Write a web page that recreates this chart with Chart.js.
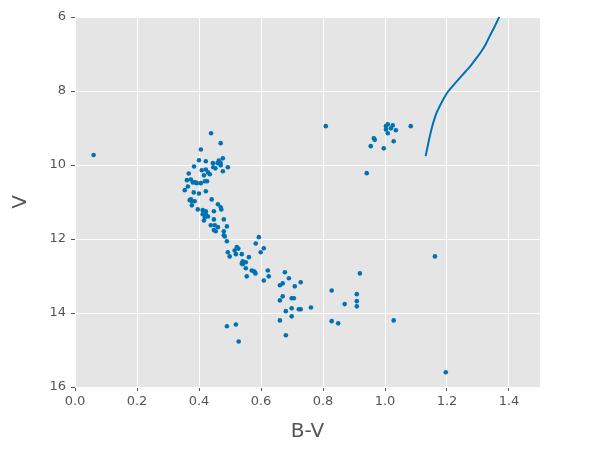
<!DOCTYPE html>
<html>
<head>
<meta charset="utf-8">
<script src="https://cdn.jsdelivr.net/npm/chart.js@4/dist/chart.umd.min.js"></script>
<style>
  html, body { margin: 0; padding: 0; background: #ffffff; }
  #wrap { width: 600px; height: 451px; }
</style>
</head>
<body>
<div id="wrap"><canvas id="c" width="600" height="451"></canvas></div>
<script>
// Star B-V colour index
const bv = [
  0.439,0.470,0.406,0.477,0.400,0.422,0.445,0.464,0.460,0.470,0.470,0.384,0.446,0.453,0.493,0.409,0.422,0.429,0.435,0.477,
  0.367,0.416,0.374,0.361,0.380,0.388,0.393,0.406,0.419,0.426,0.364,0.354,0.383,0.400,0.422,0.441,0.374,0.370,0.377,0.386,
  0.461,0.377,0.470,0.472,0.396,0.412,0.422,0.448,0.412,0.422,0.429,0.419,0.416,0.448,0.480,0.438,0.451,0.461,0.490,0.448,
  0.454,0.480,0.480,0.483,0.490,0.593,0.583,0.609,0.522,0.527,
  0.515,0.493,0.519,0.538,0.499,0.561,0.599,0.541,0.551,0.538,0.541,0.551,0.570,0.577,0.580,0.582,0.622,0.554,0.625,0.609,
  0.677,0.690,0.728,0.709,0.670,0.661,0.661,0.670,0.699,0.706,0.761,0.722,0.728,0.699,0.680,0.699,0.661,0.680,0.490,0.519,
  0.528,0.828,0.828,0.849,
  1.161,0.919,0.909,0.909,0.909,0.870,1.028,1.196,
  0.809,1.083,1.009,1.003,1.025,1.019,1.003,1.035,1.009,0.964,0.967,1.028,0.954,0.996,0.941,
  0.060
];
// Star V magnitude
const vmag = [
  9.14,9.41,9.58,9.82,9.87,9.90,9.95,9.88,9.95,9.95,10.01,10.04,10.06,10.09,10.06,10.14,10.12,10.20,10.25,10.17,
  10.23,10.28,10.39,10.41,10.47,10.47,10.49,10.49,10.44,10.44,10.58,10.68,10.74,10.77,10.71,10.93,10.93,10.95,10.98,10.98,
  11.06,11.09,11.14,11.20,11.20,11.22,11.25,11.25,11.33,11.33,11.39,11.41,11.50,11.47,11.47,11.63,11.63,11.68,11.66,11.76,
  11.79,11.79,11.90,11.93,12.06,11.95,12.12,12.25,12.22,12.26,
  12.31,12.36,12.41,12.41,12.47,12.49,12.36,12.60,12.63,12.66,12.68,12.79,12.85,12.87,12.90,12.93,12.85,13.01,13.01,13.12,
  12.90,13.06,13.17,13.28,13.20,13.25,13.66,13.55,13.60,13.60,13.85,13.90,13.90,13.87,13.95,14.09,14.20,14.60,14.36,14.31,
  14.77,13.39,14.22,14.28,
  12.47,12.93,13.49,13.68,13.82,13.76,14.20,15.60,
  8.95,8.95,8.90,8.95,8.93,9.01,9.04,9.06,9.14,9.28,9.32,9.36,9.49,9.55,10.22,
  9.73
];
// Isochrone curve
const isoBV = [1.131, 1.137, 1.143, 1.151, 1.160, 1.168, 1.176, 1.189, 1.203, 1.221, 1.240, 1.259, 1.278, 1.294, 1.310, 1.324, 1.337, 1.353, 1.369, 1.385];
const isoV  = [9.76, 9.52, 9.28, 9.00, 8.74, 8.56, 8.42, 8.21, 8.02, 7.84, 7.66, 7.48, 7.30, 7.12, 6.94, 6.75, 6.53, 6.27, 5.99, 5.70];
const xTicks = [0, 0.2, 0.4, 0.6, 0.8, 1.0, 1.2, 1.4];
const yTicks = [6, 8, 10, 12, 14, 16];

const blue = '#0072B2';
const starPts = bv.map((x, i) => ({x: x, y: vmag[i]}));
const isoPts = isoBV.map((x, i) => ({x: x, y: isoV[i]}));

new Chart(document.getElementById('c'), {
  type: 'scatter',
  data: {
    datasets: [
      {
        type: 'line',
        data: isoPts,
        borderColor: blue,
        borderWidth: 2,
        pointRadius: 0,
        fill: false,
        cubicInterpolationMode: 'monotone',
        order: 2
      },
      {
        data: starPts,
        backgroundColor: blue,
        borderColor: blue,
        borderWidth: 0,
        pointRadius: 2.3,
        order: 1
      }
    ]
  },
  options: {
    responsive: false,
    animation: false,
    devicePixelRatio: 1,
    layout: { padding: { top: 17, right: 60, left: 0, bottom: 0 } },
    plugins: {
      legend: { display: false },
      tooltip: { enabled: false },
      bgPlugin: {}
    },
    scales: {
      x: {
        type: 'linear',
        min: 0, max: 1.5,
        afterBuildTicks: s => { s.ticks = xTicks.map(v => ({value: v})); },
        afterFit: s => { s.height = 64; },
        grid: { color: '#ffffff', lineWidth: 1, tickColor: '#555555', tickLength: 4 },
        border: { display: false },
        ticks: {
          color: '#555555', padding: 3,
          font: { family: 'DejaVu Sans', size: 13 },
          callback: v => v.toFixed(1)
        },
        title: {
          display: true, text: 'B-V', color: '#555555',
          font: { family: 'DejaVu Sans', size: 20 },
          padding: { top: 0, bottom: 7 }
        }
      },
      y: {
        type: 'linear',
        min: 6, max: 16, reverse: true,
        afterBuildTicks: s => { s.ticks = yTicks.map(v => ({value: v})); },
        afterFit: s => { s.width = 75; },
        grid: { color: '#ffffff', lineWidth: 1, tickColor: '#555555', tickLength: 4 },
        border: { display: false },
        ticks: {
          color: '#555555', padding: 5,
          font: { family: 'DejaVu Sans', size: 13 },
          callback: v => String(v)
        },
        title: {
          display: true, text: 'V', color: '#555555',
          font: { family: 'DejaVu Sans', size: 20 },
          padding: { top: 9, bottom: 0 }
        }
      }
    }
  },
  plugins: [{
    id: 'bgPlugin',
    beforeDraw(chart) {
      const {ctx, chartArea: a} = chart;
      ctx.save();
      ctx.fillStyle = '#E5E5E5';
      ctx.fillRect(a.left, a.top, a.right - a.left, a.bottom - a.top);
      ctx.restore();
    }
  }]
});
</script>
</body>
</html>
